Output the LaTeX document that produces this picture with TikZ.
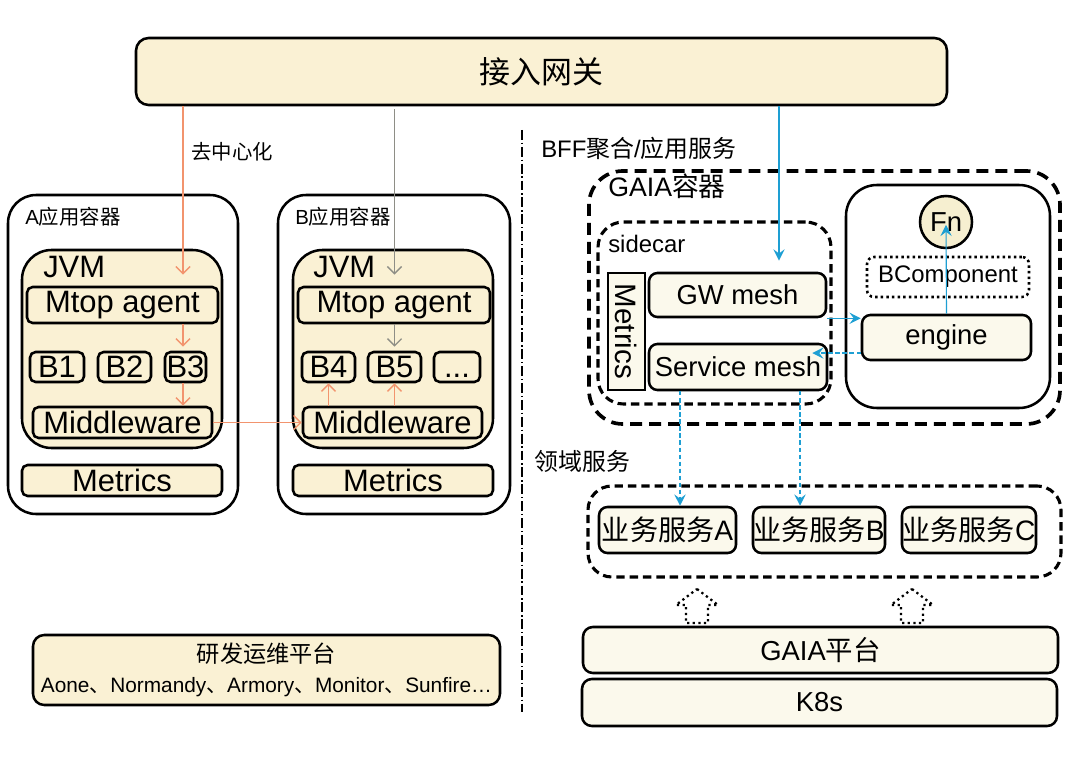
\documentclass[tikz,border=0pt]{standalone}
\usepackage{fontspec}
\setmainfont{Liberation Sans}
\newfontfamily\cjk{Noto Sans CJK SC}
\usepackage{xcolor}
\definecolor{cream}{HTML}{FAF1D4}
\definecolor{paper}{HTML}{FBF9EC}
\definecolor{fnfill}{HTML}{F6EFD0}
\definecolor{salmon}{HTML}{F2946E}
\definecolor{slate}{HTML}{8E8E86}
\definecolor{sky}{HTML}{1E9FD3}
\usetikzlibrary{arrows.meta,positioning}
\tikzset{
    sz/.style 2 args={minimum width=#1*0.025cm, minimum height=#2*0.025cm}
}

\begin{document}
\begin{tikzpicture}[
    x=0.025cm, y=-0.025cm,
    box/.style={draw, line width=1.8pt, rounded corners=4pt, fill=cream, inner sep=0pt},
    pale/.style={box, fill=paper, rounded corners=6pt},
    holder/.style={draw, line width=1.8pt, rounded corners=20pt, fill=white, inner sep=0pt},
    dashholder/.style={draw, line width=2.2pt, dash pattern=on 6pt off 3.5pt, rounded corners=17pt, inner sep=0pt},
    big/.style={font=\fontsize{22pt}{25pt}\selectfont},
    mid/.style={font=\fontsize{19.5pt}{22pt}\selectfont},
    tag/.style={font=\fontsize{14.5pt}{17pt}\selectfont, anchor=west, inner sep=0pt},
    heading/.style={font=\fontsize{17pt}{20pt}\selectfont, anchor=west, inner sep=0pt},
    oline/.style={draw=salmon, line width=1pt, -{Straight Barb[length=5pt,width=10pt]}},
    gline/.style={draw=slate, line width=1pt, -{Straight Barb[length=5pt,width=10pt]}},
    bline/.style={draw=sky, line width=1pt, -{Stealth[length=8pt,width=8pt,inset=3pt]}},
    bdash/.style={bline, dash pattern=on 3pt off 2pt},
    dotblock/.style={draw, line width=1.6pt, dash pattern=on 1.6pt off 2.4pt, line join=round},
    divider/.style={draw, line width=0.8pt, dash pattern=on 7pt off 2pt on 1pt off 2pt}
]
    \path[use as bounding box, fill=white] (0,0) rectangle (1080,762);

    % gateway
    \node[box, rounded corners=9pt, sz={811}{67}, font=\cjk\fontsize{22pt}{26pt}\selectfont] (gw) at (541.5,71.5) {接入网关};

    % A container
    \node[holder, sz={230}{319}] (contA) at (123,354.5) {};
    \node[tag] (labA) at (25,217) {A{\cjk 应用容器}};
    \node[box, rounded corners=21pt, sz={200}{198}] (jvmA) at (122,349) {};
    \node[big, anchor=west, inner sep=0pt] (jvmlabA) at (43,267) {JVM};
    \node[box, big, sz={191}{36}] (mtopA) at (122.5,305) {Mtop agent};
    \node[box, big, sz={54}{30}] (b1) at (57,367) {B1};
    \node[box, big, sz={53}{30}] (b2) at (124.5,367) {B2};
    \node[box, big, sz={41}{30}] (b3) at (185.5,367) {B3};
    \node[box, big, sz={179}{31}] (mwA) at (122.5,422.5) {Middleware};
    \node[box, big, sz={200}{31}] (metA) at (122,480.5) {Metrics};

    % B container
    \node[holder, sz={232}{319}] (contB) at (394,354.5) {};
    \node[tag] (labB) at (295,217) {B{\cjk 应用容器}};
    \node[box, rounded corners=21pt, sz={200}{198}] (jvmB) at (393,349) {};
    \node[big, anchor=west, inner sep=0pt] (jvmlabB) at (313,267) {JVM};
    \node[box, big, sz={192}{36}] (mtopB) at (394,305) {Mtop agent};
    \node[box, big, sz={53}{30}] (b4) at (328.5,367) {B4};
    \node[box, big, sz={53}{30}] (b5) at (394.5,367) {B5};
    \node[box, big, sz={46}{30}] (bdots) at (457,367) {\vphantom{B}...};
    \node[box, big, sz={179}{31}] (mwB) at (392.5,422.5) {Middleware};
    \node[box, big, sz={200}{31}] (metB) at (393,480.5) {Metrics};

    % ops platform
    \node[box, rounded corners=8pt, sz={467}{70}, align=center, font=\fontsize{14.8pt}{21pt}\selectfont] (ops) at (266.5,670)
        {{\cjk\fontsize{16.5pt}{21pt}\selectfont 研发运维平台}\\Aone{\cjk 、}Normandy{\cjk 、}Armory{\cjk 、}Monitor{\cjk 、}Sunfire…};

    \coordinate (ocol) at (183,0);
    \coordinate (bcol) at (779,0);
    \coordinate (dA) at (680,0);
    \coordinate (dB) at (800,0);
    \coordinate (divtop) at (522,130);
    \coordinate (divbot) at (522,712);

    % left flows
    \node[tag, font=\cjk\fontsize{14.5pt}{17pt}\selectfont] (decen) at (191,152) {去中心化};
    \draw[oline, shorten >=0.28cm] (gw.south -| ocol) -- (mtopA.north -| ocol);
    \draw[oline, shorten >=0.1cm] (mtopA.south -| ocol) -- (b3.north -| ocol);
    \draw[oline] (b3.south -| ocol) -- (mwA.north -| ocol);
    \draw[oline] (mwA.east) -- (mwB.west);
    \draw[oline] (mwB.north -| b4) -- (b4.south);
    \draw[oline] (mwB.north -| b5) -- (b5.south);
    \draw[gline, shorten <=0.08cm, shorten >=0.28cm] (gw.south -| b5) -- (mtopB.north -| b5);
    \draw[gline, shorten >=0.1cm] (mtopB.south -| b5) -- (b5.north);

    \draw[divider] (divtop) -- (divbot);

    % GAIA container
    \node[heading] (bff) at (541,148) {BFF{\cjk 聚合}/{\cjk 应用服务}};
    \node[dashholder, line width=2.6pt, dash pattern=on 8.5pt off 5pt, rounded corners=24pt, sz={471}{253}] (gaia) at (824.5,297.5) {};
    \node[anchor=west, inner sep=0pt, font=\fontsize{19pt}{22pt}\selectfont] (gaialab) at (608,186) {GAIA{\cjk 容器}};
    \node[dashholder, rounded corners=18pt, sz={233}{182}] (sidecar) at (714.5,313) {};
    \node[heading] (sidelab) at (608,244) {sidecar};
    \node[box, fill=paper, rotate=-90, sz={117}{37}, font=\fontsize{21pt}{22pt}\selectfont, rounded corners=0pt] (metS) at (626.5,331.5) {Metrics};
    \node[pale, mid, sz={177}{44}] (gwm) at (737.5,295) {GW mesh};
    \node[pale, mid, sz={178}{46}] (smesh) at (738,367) {Service mesh};
    \node[holder, rounded corners=22pt, sz={204}{223}] (rbox) at (948,296.5) {};
    \node[circle, draw, line width=1.8pt, fill=fnfill, minimum size=52*0.025cm, inner sep=0pt, mid] (fn) at (946,222) {Fn};
    \node[draw, line width=1.8pt, dash pattern=on 1.8pt off 2.2pt, rounded corners=5pt, fill=white, inner sep=0pt,
          sz={162}{40}, font=\fontsize{17pt}{20pt}\selectfont] (bcomp) at (948,277) {BComponent};
    \node[pale, mid, sz={169}{45}] (eng) at (946.5,337.5) {engine};

    % domain services
    \node[heading, font=\cjk\fontsize{17pt}{20pt}\selectfont] (domlab) at (534,461) {领域服务};
    \node[dashholder, sz={473}{91}] (dom) at (824.5,531.5) {};
    \node[pale, sz={137}{46}, font=\fontsize{20pt}{22pt}\selectfont] (svcA) at (667.5,530) {{\cjk 业务服务}A};
    \node[pale, sz={132}{46}, font=\fontsize{20pt}{22pt}\selectfont] (svcB) at (819,530) {{\cjk 业务服务}B};
    \node[pale, sz={134}{46}, font=\fontsize{20pt}{22pt}\selectfont] (svcC) at (969,530) {{\cjk 业务服务}C};

    % platform
    \foreach \ux in {697,912} {
        \draw[dotblock] (\ux,589) -- ++(21,16) -- ++(-10,0) -- ++(0,18) -- ++(-22,0) -- ++(0,-18) -- ++(-10,0) -- cycle;
    }
    \node[pale, rounded corners=7pt, sz={475}{46}, mid] (gplat) at (820.5,650) {GAIA{\cjk 平台}};
    \node[pale, rounded corners=7pt, sz={475}{47}, mid] (k8s) at (819.5,702.5) {K8s};

    % right flows
    \draw[bline, shorten >=0.28cm] (gw.south -| bcol) -- (gwm.north -| bcol);
    \draw[bline] (gwm.south east) -- (gwm.south east -| eng.west);
    \draw[bdash, shorten >=-0.4cm] ([yshift=-0.39cm]eng.west) -- ([yshift=-0.39cm]eng.west -| smesh.east);
    \draw[bline, line width=0.8pt, shorten >=2pt] (eng.north) -- (fn.center);
    \draw[bdash] (smesh.south -| dA) -- (svcA.north -| dA);
    \draw[bdash] (smesh.south -| dB) -- (svcB.north -| dB);
\end{tikzpicture}
\end{document}
